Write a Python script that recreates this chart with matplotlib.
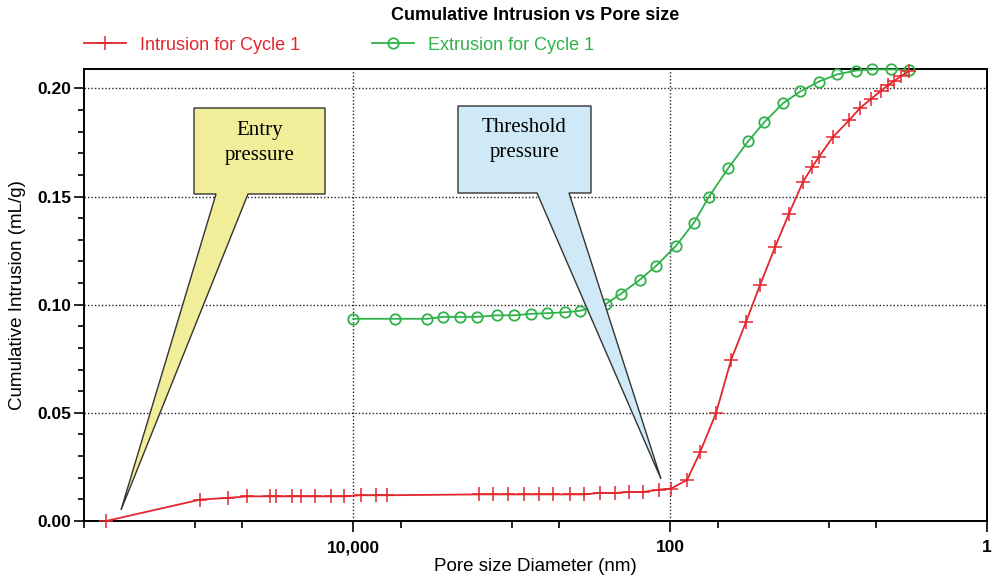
import numpy as np
import matplotlib
matplotlib.use('Agg')
from matplotlib import pyplot as plt
from matplotlib.patches import Polygon
from matplotlib.ticker import FixedLocator, FuncFormatter, MultipleLocator

# pore size (nm) and cumulative volume (mL/g)
intr_size = [363000, 92200, 61300, 46600, 33300, 30600, 24500, 21200, 17500, 13800,
             11400, 8990, 7150, 6110, 1614, 1305, 1049, 839, 673, 545,
             428, 348, 278, 224, 182, 149, 117, 98.6, 78.1, 64.7,
             51.3, 41.2, 33.2, 27.1, 21.8, 17.8, 14.5, 12.7, 11.5, 9.37,
             7.43, 6.33, 5.39, 4.67, 4.22, 3.86, 3.49, 3.10]
intr_vol = [0.0, 0.0099, 0.0107, 0.0114, 0.0114, 0.0114, 0.0114, 0.0114, 0.0114, 0.0114,
            0.0114, 0.0119, 0.0119, 0.0119, 0.0123, 0.0123, 0.0123, 0.0123, 0.0123, 0.0123,
            0.0123, 0.0123, 0.0130, 0.0130, 0.0134, 0.0134, 0.0145, 0.0150, 0.0190, 0.0318,
            0.0499, 0.0745, 0.0920, 0.1090, 0.1265, 0.1420, 0.1568, 0.1636, 0.1684, 0.1776,
            0.1852, 0.1909, 0.1952, 0.1989, 0.2015, 0.2034, 0.2057, 0.2080]

extr_size = [10000, 5430, 3410, 2700, 2110, 1650, 1235, 964, 753, 597,
             460, 370, 253, 204, 155, 122, 91.6, 70.6, 56.8, 43.1,
             32.2, 25.5, 19.4, 15.1, 11.5, 8.84, 6.71, 5.32, 4.03, 3.10]
extr_vol = [0.0935, 0.0935, 0.0935, 0.0944, 0.0944, 0.0944, 0.0951, 0.0951, 0.0958, 0.0961,
            0.0965, 0.0972, 0.1005, 0.1051, 0.1116, 0.1181, 0.1273, 0.1380, 0.1500, 0.1630,
            0.1755, 0.1843, 0.1931, 0.1986, 0.2032, 0.2065, 0.2083, 0.2088, 0.2088, 0.2085]

x_major = [1e4, 1e2, 1]
x_minor = [5e5, 1e5, 5e4, 5e3, 1e3, 5e2, 50, 10, 5]

red = '#e3262d'
green = '#2fb24a'

plt.rcParams['font.family'] = ['Liberation Sans', 'DejaVu Sans']

fig = plt.figure(figsize=(9.93, 5.79), dpi=100)
W, H = 993., 579.
L, R, T, B = 84, 987, 69, 521
ax = fig.add_axes([L/W, 1-B/H, (R-L)/W, (B-T)/H])

ax.plot(extr_size, extr_vol, color=green, lw=1.3, marker='o', ms=7.5,
        mfc='none', mec=green, mew=1.3, clip_on=False, zorder=3,
        label='Extrusion for Cycle 1')
ax.plot(intr_size, intr_vol, color=red, lw=1.3, marker='+', ms=10,
        mec=red, mew=1.1, clip_on=False, zorder=4,
        label='Intrusion for Cycle 1')

ax.set_xscale('log')
ax.set_xlim(5e5, 1)
ax.set_ylim(0, 0.209)
ax.xaxis.set_major_locator(FixedLocator(x_major))
ax.xaxis.set_minor_locator(FixedLocator(x_minor))
ax.xaxis.set_major_formatter(FuncFormatter(lambda v, p: '{:,.0f}'.format(v)))
ax.xaxis.set_minor_formatter(FuncFormatter(lambda v, p: ''))
ax.yaxis.set_major_locator(MultipleLocator(0.05))
ax.yaxis.set_minor_locator(MultipleLocator(0.01))
ax.yaxis.set_major_formatter(FuncFormatter(lambda v, p: '%.2f' % v))

ax.tick_params(axis='both', which='both', direction='out', width=1.2, colors='black')
ax.tick_params(axis='x', which='major', length=8, pad=6)
ax.tick_params(axis='x', which='minor', length=5)
ax.tick_params(axis='y', which='major', length=7, pad=2)
ax.tick_params(axis='y', which='minor', length=4)
for lab in ax.get_xticklabels() + ax.get_yticklabels():
    lab.set_fontweight('bold')
    lab.set_fontsize(12.5)
for s in ax.spines.values():
    s.set_linewidth(1.4)

ax.grid(True, which='major', color='#222222', linestyle=(0, (1, 1.5)), lw=1.0)

ax.set_xlabel('Pore size Diameter (nm)', fontsize=13.5, labelpad=2)
ax.set_ylabel('Cumulative Intrusion (mL/g)', fontsize=13.5, labelpad=8)

ax.text(0.5, 1 + (T-15)/(B-T), 'Cumulative Intrusion vs Pore size', transform=ax.transAxes,
        ha='center', va='center', fontsize=13, fontweight='bold')

h, l = ax.get_legend_handles_labels()
leg = ax.legend(h[::-1], l[::-1], loc='center left', bbox_to_anchor=(0, 1 + 24/(B-T)),
                ncol=2, frameon=False, borderpad=0, borderaxespad=0, fontsize=13,
                handlelength=2.3, handletextpad=0.8, columnspacing=4.0)
for txt, c in zip(leg.get_texts(), [red, green]):
    txt.set_color(c)


# callouts, drawn in axes fraction coordinates
def fx(px):
    return (px - L) / (R - L)


def fy(py):
    return (B - py) / (B - T)


def callout(x0, x1, ytop, ybot, tl, tr, tip, face, text, ty):
    pts = [(fx(x0), fy(ytop)), (fx(x1), fy(ytop)), (fx(x1), fy(ybot)),
           (fx(tr), fy(ybot)), (fx(tip[0]), fy(tip[1])), (fx(tl), fy(ybot)),
           (fx(x0), fy(ybot))]
    ax.add_patch(Polygon(pts, closed=True, transform=ax.transAxes, facecolor=face,
                         edgecolor='#333333', lw=1.0, zorder=6, clip_on=False))
    ax.text(fx((x0 + x1) / 2), fy(ty), text, transform=ax.transAxes, ha='center',
            va='center', fontsize=15, family='Liberation Serif', zorder=7,
            linespacing=1.45)


callout(194, 325, 108, 194, 216, 248, (121, 510), '#f1ed98', 'Entry\npressure', 143)
callout(458, 591, 106, 193, 537, 569, (661, 479), '#cfeaf6', 'Threshold\npressure', 140)

fig.savefig('out.png', dpi=100)
